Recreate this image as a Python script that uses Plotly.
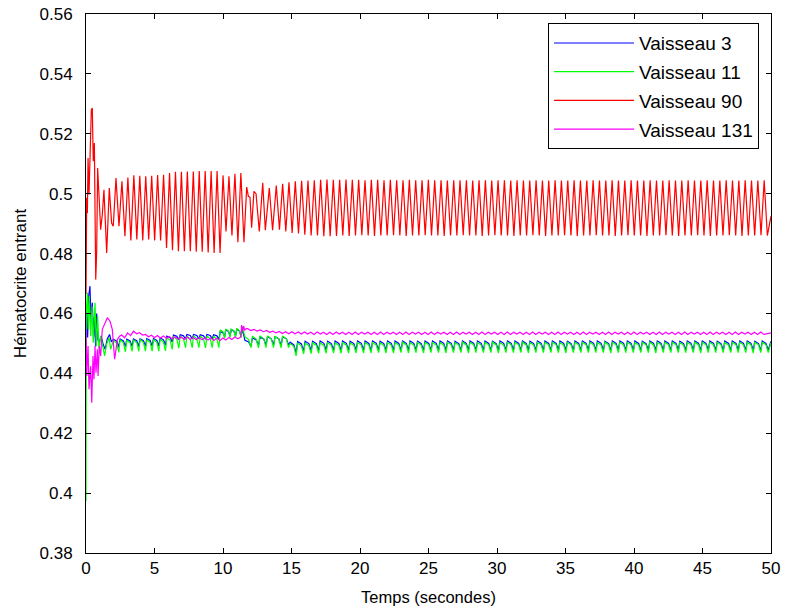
import plotly.graph_objects as go

# ---------------- Vaisseau 90 (rouge) ----------------
red_lead_t = [0.0, 0.05, 0.10, 0.15, 0.22, 0.34, 0.39, 0.46, 0.53, 0.61, 0.71,
              0.78, 0.85, 0.97, 1.07, 1.19, 1.31, 1.51, 1.70, 1.87, 1.99]
red_lead_v = [0.4665, 0.4986, 0.4935, 0.5119, 0.4997, 0.5241, 0.5280, 0.5286, 0.5108,
              0.5169, 0.4713, 0.4808, 0.5086, 0.4974, 0.4880, 0.4930, 0.5013, 0.4802,
              0.5019, 0.4902, 0.4891]
red_a_start, red_a_period = 2.19, 0.434
red_a_peaks = [0.5052, 0.5041, 0.5054, 0.5061, 0.5060, 0.5058, 0.5060, 0.5062, 0.5063,
               0.5069, 0.5073, 0.5073, 0.5074, 0.5074, 0.5076, 0.5076, 0.5076, 0.5076,
               0.5061, 0.5058, 0.5066, 0.5069]
red_a_troughs = [0.4891, 0.4858, 0.4844, 0.4847, 0.4844, 0.4847, 0.4844, 0.4844, 0.4819,
                 0.4811, 0.4808, 0.4808, 0.4808, 0.4806, 0.4806, 0.4804, 0.4802, 0.4802,
                 0.4874, 0.4860, 0.4838]
red_mid_t = [11.53, 11.73, 11.85, 11.97, 12.09, 12.26, 12.41, 12.65, 12.90, 13.09, 13.38, 13.62]
red_mid_v = [0.4838, 0.5022, 0.4991, 0.4988, 0.4886, 0.5008, 0.5000, 0.4874, 0.5036,
             0.4878, 0.5019, 0.4878]
red_e_start, red_e_period = 13.89, 0.4625
red_e_peaks = [0.5027, 0.5033, 0.5038, 0.5041, 0.5043, 0.5044, 0.5045, 0.5046, 0.5047, 0.5046,
               0.5046, 0.5047, 0.5046, 0.5046, 0.5045, 0.5046, 0.5046, 0.5045, 0.5046, 0.5045,
               0.5045, 0.5046, 0.5045, 0.5045, 0.5046, 0.5045, 0.5045, 0.5044, 0.5045, 0.5045,
               0.5045, 0.5044, 0.5045, 0.5045, 0.5044, 0.5045, 0.5045, 0.5044, 0.5045, 0.5044,
               0.5044, 0.5045, 0.5044, 0.5044, 0.5045, 0.5044, 0.5044, 0.5045, 0.5044, 0.5044,
               0.5045, 0.5044, 0.5044, 0.5045, 0.5044, 0.5044, 0.5045, 0.5044, 0.5044, 0.5045,
               0.5044, 0.5044, 0.5045, 0.5044, 0.5044, 0.5045, 0.5044, 0.5044, 0.5045, 0.5044,
               0.5044, 0.5045, 0.5044, 0.5044, 0.5045, 0.5044, 0.5044, 0.5045]
red_e_troughs = [0.4880, 0.4874, 0.4869, 0.4867, 0.4863, 0.4860, 0.4860, 0.4858, 0.4858, 0.4859,
                 0.4860, 0.4859, 0.4860, 0.4861, 0.4860, 0.4859, 0.4860, 0.4860, 0.4861, 0.4860,
                 0.4859, 0.4860, 0.4860, 0.4861, 0.4860, 0.4860, 0.4859, 0.4860, 0.4860, 0.4861,
                 0.4860, 0.4860, 0.4859, 0.4860, 0.4861, 0.4860, 0.4860, 0.4859, 0.4860, 0.4860,
                 0.4861, 0.4860, 0.4859, 0.4860, 0.4860, 0.4861, 0.4860, 0.4859, 0.4860, 0.4860,
                 0.4861, 0.4860, 0.4860, 0.4859, 0.4860, 0.4861, 0.4860, 0.4860, 0.4859, 0.4860,
                 0.4860, 0.4861, 0.4860, 0.4859, 0.4860, 0.4860, 0.4861, 0.4860, 0.4859, 0.4860,
                 0.4860, 0.4861, 0.4860, 0.4859, 0.4860, 0.4860, 0.4861, 0.4860]
red_end_t, red_end_v = [50.0], [0.4925]

# ---------------- Vaisseau 11 (vert) ----------------
green_lead_t = [0.0, 0.02, 0.10, 0.17, 0.24, 0.34, 0.44, 0.53, 0.66, 0.75, 0.85, 0.95,
                1.07, 1.19, 1.36, 1.50, 1.68, 1.80]
green_lead_v = [0.3974, 0.4602, 0.4669, 0.4547, 0.4658, 0.4524, 0.4624, 0.4502, 0.4636,
                0.4491, 0.4591, 0.4480, 0.4524, 0.4491, 0.4458, 0.4497, 0.4519, 0.4480]
green_b_tops = [0.4510, 0.4512, 0.4511, 0.4512, 0.4513, 0.4512, 0.4513, 0.4514, 0.4520,
                0.4523, 0.4524, 0.4524, 0.4525, 0.4524, 0.4525, 0.4524]
green_b_dips = [0.4470, 0.4472, 0.4473, 0.4473, 0.4474, 0.4474, 0.4474, 0.4475, 0.4480,
                0.4484, 0.4486, 0.4486, 0.4486, 0.4485, 0.4486, 0.4486]
green_c_tops = [0.4545, 0.4548, 0.4548, 0.4550]
green_c_dips = [0.4518, 0.4520, 0.4521, 0.4520]
green_kick_t, green_kick_v = [11.42], [0.4555]
green_d_tops = [0.4522, 0.4524, 0.4525, 0.4525, 0.4524, 0.4525]
green_d_dips = [0.4486, 0.4485, 0.4486, 0.4486, 0.4485, 0.4486]
green_e_tops = [0.4500, 0.4501, 0.4501, 0.4502, 0.4502, 0.4502, 0.4502, 0.4503, 0.4502, 0.4503,
                0.4503, 0.4503, 0.4502, 0.4503, 0.4503, 0.4504, 0.4503, 0.4503, 0.4504, 0.4503,
                0.4503, 0.4504, 0.4503, 0.4504, 0.4504, 0.4503, 0.4504, 0.4504, 0.4503, 0.4504,
                0.4504, 0.4504, 0.4503, 0.4504, 0.4504, 0.4504, 0.4503, 0.4504, 0.4504, 0.4504,
                0.4504, 0.4503, 0.4504, 0.4504, 0.4504, 0.4504, 0.4503, 0.4504, 0.4504, 0.4504,
                0.4504, 0.4504, 0.4503, 0.4504, 0.4504, 0.4504, 0.4504, 0.4504, 0.4503, 0.4504,
                0.4504, 0.4504, 0.4504, 0.4504]
green_e_dips = [0.4458, 0.4465, 0.4466, 0.4467, 0.4467, 0.4468, 0.4467, 0.4468, 0.4468, 0.4468,
                0.4468, 0.4469, 0.4468, 0.4468, 0.4469, 0.4468, 0.4469, 0.4468, 0.4469, 0.4469,
                0.4468, 0.4469, 0.4469, 0.4468, 0.4469, 0.4469, 0.4469, 0.4468, 0.4469, 0.4469,
                0.4469, 0.4468, 0.4469, 0.4469, 0.4469, 0.4469, 0.4468, 0.4469, 0.4469, 0.4469,
                0.4469, 0.4469, 0.4468, 0.4469, 0.4469, 0.4469, 0.4469, 0.4469, 0.4468, 0.4469,
                0.4469, 0.4469, 0.4469, 0.4469, 0.4468, 0.4469, 0.4469, 0.4469, 0.4469, 0.4469,
                0.4469, 0.4468, 0.4469, 0.4469]

# ---------------- Vaisseau 3 (bleu) ----------------
blue_lead_t = [0.0, 0.05, 0.12, 0.20, 0.29, 0.36, 0.46, 0.55, 0.62, 0.70, 0.78, 0.88,
               0.97, 1.10, 1.25, 1.40, 1.55, 1.72, 1.85]
blue_lead_v = [0.4520, 0.4600, 0.4520, 0.4660, 0.4691, 0.4580, 0.4636, 0.4520, 0.4590,
               0.4490, 0.4600, 0.4510, 0.4503, 0.4525, 0.4497, 0.4480, 0.4515, 0.4530, 0.4505]
blue_b_tops = [0.4514, 0.4515, 0.4514, 0.4515, 0.4515, 0.4516, 0.4516, 0.4518, 0.4524,
               0.4528, 0.4529, 0.4530, 0.4530, 0.4529, 0.4530, 0.4529]
blue_b_dips = [0.4488, 0.4489, 0.4490, 0.4490, 0.4491, 0.4491, 0.4492, 0.4494, 0.4505,
               0.4512, 0.4514, 0.4515, 0.4515, 0.4514, 0.4515, 0.4514]
blue_c_tops = [0.4540, 0.4545, 0.4546, 0.4547]
blue_c_dips = [0.4522, 0.4524, 0.4525, 0.4524]
blue_kick_t, blue_kick_v = [11.42], [0.4548]
blue_d_tops = [0.4510, 0.4518, 0.4521, 0.4522, 0.4522, 0.4522]
blue_d_dips = [0.4490, 0.4493, 0.4495, 0.4495, 0.4494, 0.4495]
blue_e_tops = [0.4504, 0.4506, 0.4507, 0.4507, 0.4508, 0.4507, 0.4508, 0.4508, 0.4507, 0.4508,
               0.4508, 0.4508, 0.4507, 0.4508, 0.4508, 0.4508, 0.4508, 0.4507, 0.4508, 0.4508,
               0.4508, 0.4508, 0.4507, 0.4508, 0.4508, 0.4508, 0.4508, 0.4507, 0.4508, 0.4508,
               0.4508, 0.4508, 0.4507, 0.4508, 0.4508, 0.4508, 0.4508, 0.4507, 0.4508, 0.4508,
               0.4508, 0.4508, 0.4507, 0.4508, 0.4508, 0.4508, 0.4508, 0.4507, 0.4508, 0.4508,
               0.4508, 0.4508, 0.4507, 0.4508, 0.4508, 0.4508, 0.4508, 0.4507, 0.4508, 0.4508,
               0.4508, 0.4508, 0.4507, 0.4508]
blue_e_dips = [0.4468, 0.4475, 0.4476, 0.4476, 0.4477, 0.4477, 0.4476, 0.4477, 0.4477, 0.4477,
               0.4476, 0.4477, 0.4477, 0.4477, 0.4476, 0.4477, 0.4477, 0.4477, 0.4476, 0.4477,
               0.4477, 0.4477, 0.4476, 0.4477, 0.4477, 0.4477, 0.4476, 0.4477, 0.4477, 0.4477,
               0.4476, 0.4477, 0.4477, 0.4477, 0.4476, 0.4477, 0.4477, 0.4477, 0.4476, 0.4477,
               0.4477, 0.4477, 0.4476, 0.4477, 0.4477, 0.4477, 0.4476, 0.4477, 0.4477, 0.4477,
               0.4476, 0.4477, 0.4477, 0.4477, 0.4476, 0.4477, 0.4477, 0.4477, 0.4476, 0.4477,
               0.4477, 0.4477, 0.4476, 0.4477]

# timing of the dip segments shared by vessels 3 and 11
dip_b_start, dip_b_period = 2.0, 0.4875
dip_c_start, dip_c_period = 9.8, 0.4
dip_d_start, dip_d_period = 11.6, 0.55
dip_e_start, dip_e_period = 14.9, 0.547
green_end_t, green_end_v = [50.0], [0.4503]
blue_end_t, blue_end_v = [50.0], [0.4507]

# ---------------- Vaisseau 131 (magenta) ----------------
mag_lead_t = [0.0, 0.05, 0.15, 0.22, 0.34, 0.42, 0.51, 0.58, 0.66, 0.73, 0.83, 0.88,
              0.97, 1.07, 1.19, 1.35, 1.56, 1.75, 1.92, 2.09, 2.19, 2.29, 2.45]
mag_lead_v = [0.4547, 0.4391, 0.4491, 0.4347, 0.4424, 0.4302, 0.4458, 0.4380, 0.4491,
              0.4402, 0.4480, 0.4391, 0.4491, 0.4458, 0.4547, 0.4565, 0.4586, 0.4574,
              0.4547, 0.4447, 0.4491, 0.4513, 0.4524]
mag_m1_start, mag_m1_period = 2.6, 0.435
mag_m1_hi = [0.4528, 0.4535, 0.4541, 0.4536, 0.4530, 0.4527, 0.4526, 0.4525, 0.4523, 0.4522,
             0.4521, 0.4521, 0.4520, 0.4520, 0.4519, 0.4518, 0.4518, 0.4518, 0.4520, 0.4521]
mag_m1_lo = [0.4519, 0.4526, 0.4532, 0.4528, 0.4522, 0.4519, 0.4518, 0.4517, 0.4515, 0.4514,
             0.4513, 0.4513, 0.4512, 0.4512, 0.4511, 0.4510, 0.4510, 0.4511, 0.4513, 0.4515]
mag_mid_t = [11.30, 11.36, 11.42, 11.50, 11.58, 11.70]
mag_mid_v = [0.4522, 0.4561, 0.4540, 0.4558, 0.4545, 0.4549]
mag_m2_start, mag_m2_period = 11.8, 0.46
mag_m2_hi = [0.4549, 0.4547, 0.4545, 0.4543, 0.4541]
mag_m2_lo = [0.4543, 0.4541, 0.4539, 0.4537, 0.4535]
mag_m3_start, mag_m3_period = 14.1, 0.4625
mag_m3_hi = [0.4540, 0.4539, 0.4539, 0.4538, 0.4538, 0.4537, 0.4538, 0.4537, 0.4537, 0.4538,
             0.4537, 0.4537, 0.4538, 0.4537, 0.4537, 0.4537, 0.4538, 0.4537, 0.4537, 0.4537,
             0.4538, 0.4537, 0.4537, 0.4537, 0.4538, 0.4537, 0.4537, 0.4537, 0.4538, 0.4537,
             0.4537, 0.4537, 0.4538, 0.4537, 0.4537, 0.4537, 0.4538, 0.4537, 0.4537, 0.4537,
             0.4538, 0.4537, 0.4537, 0.4537, 0.4538, 0.4537, 0.4537, 0.4537, 0.4538, 0.4537,
             0.4537, 0.4537, 0.4538, 0.4537, 0.4537, 0.4537, 0.4538, 0.4537, 0.4537, 0.4537,
             0.4538, 0.4537, 0.4537, 0.4537, 0.4538, 0.4537, 0.4537, 0.4537, 0.4538, 0.4537,
             0.4537, 0.4537, 0.4538, 0.4537, 0.4537, 0.4537, 0.4538]
mag_m3_lo = [0.4533, 0.4532, 0.4532, 0.4531, 0.4531, 0.4530, 0.4531, 0.4530, 0.4530, 0.4531,
             0.4530, 0.4530, 0.4530, 0.4531, 0.4530, 0.4530, 0.4530, 0.4531, 0.4530, 0.4530,
             0.4530, 0.4531, 0.4530, 0.4530, 0.4530, 0.4531, 0.4530, 0.4530, 0.4530, 0.4531,
             0.4530, 0.4530, 0.4530, 0.4531, 0.4530, 0.4530, 0.4530, 0.4531, 0.4530, 0.4530,
             0.4530, 0.4531, 0.4530, 0.4530, 0.4530, 0.4531, 0.4530, 0.4530, 0.4530, 0.4531,
             0.4530, 0.4530, 0.4530, 0.4531, 0.4530, 0.4530, 0.4530, 0.4531, 0.4530, 0.4530,
             0.4530, 0.4531, 0.4530, 0.4530, 0.4530, 0.4531, 0.4530, 0.4530, 0.4530, 0.4531,
             0.4530, 0.4530, 0.4530, 0.4531, 0.4530, 0.4530, 0.4530]
mag_end_t, mag_end_v = [50.0], [0.4535]

# ---------------- axes ----------------
x_ticks = [0, 5, 10, 15, 20, 25, 30, 35, 40, 45, 50]
y_ticks = [0.38, 0.40, 0.42, 0.44, 0.46, 0.48, 0.50, 0.52, 0.54, 0.56]
y_tick_text = ["0.38", "0.4", "0.42", "0.44", "0.46", "0.48", "0.5", "0.52", "0.54", "0.56"]


def zigzag(t0, period, highs, lows):
    """Alternating maxima / minima, one pair per cycle."""
    t, v = [], []
    for k, hi in enumerate(highs):
        t.append(t0 + k * period)
        v.append(hi)
        if k < len(lows):
            t.append(t0 + (k + 0.5) * period)
            v.append(lows[k])
    return t, v


def dip_train(t0, period, tops, dips):
    """Flat-topped cycles, each ending in a narrow downward dip."""
    t, v = [], []
    for k, (hi, lo) in enumerate(zip(tops, dips)):
        s = t0 + k * period
        t += [s, s + 0.5 * period, s + 0.8 * period]
        v += [hi, hi - 0.25 * (hi - lo), lo]
    return t, v


def join(*parts):
    t, v = [], []
    for pt, pv in parts:
        t += list(pt)
        v += list(pv)
    return t, v


red_t, red_v = join((red_lead_t, red_lead_v),
                    zigzag(red_a_start, red_a_period, red_a_peaks, red_a_troughs),
                    (red_mid_t, red_mid_v),
                    zigzag(red_e_start, red_e_period, red_e_peaks, red_e_troughs),
                    (red_end_t, red_end_v))

green_t, green_v = join((green_lead_t, green_lead_v),
                        dip_train(dip_b_start, dip_b_period, green_b_tops, green_b_dips),
                        dip_train(dip_c_start, dip_c_period, green_c_tops, green_c_dips),
                        (green_kick_t, green_kick_v),
                        dip_train(dip_d_start, dip_d_period, green_d_tops, green_d_dips),
                        dip_train(dip_e_start, dip_e_period, green_e_tops, green_e_dips),
                        (green_end_t, green_end_v))

blue_t, blue_v = join((blue_lead_t, blue_lead_v),
                      dip_train(dip_b_start, dip_b_period, blue_b_tops, blue_b_dips),
                      dip_train(dip_c_start, dip_c_period, blue_c_tops, blue_c_dips),
                      (blue_kick_t, blue_kick_v),
                      dip_train(dip_d_start, dip_d_period, blue_d_tops, blue_d_dips),
                      dip_train(dip_e_start, dip_e_period, blue_e_tops, blue_e_dips),
                      (blue_end_t, blue_end_v))

mag_t, mag_v = join((mag_lead_t, mag_lead_v),
                    zigzag(mag_m1_start, mag_m1_period, mag_m1_hi, mag_m1_lo),
                    (mag_mid_t, mag_mid_v),
                    zigzag(mag_m2_start, mag_m2_period, mag_m2_hi, mag_m2_lo),
                    zigzag(mag_m3_start, mag_m3_period, mag_m3_hi, mag_m3_lo),
                    (mag_end_t, mag_end_v))

series = [
    ("Vaisseau 3", blue_t, blue_v, "rgb(0,0,255)"),
    ("Vaisseau 11", green_t, green_v, "rgb(0,255,0)"),
    ("Vaisseau 90", red_t, red_v, "rgb(255,0,0)"),
    ("Vaisseau 131", mag_t, mag_v, "rgb(255,0,255)"),
]

fig = go.Figure()
for name, t, v, color in series:
    fig.add_trace(go.Scatter(x=t, y=v, mode="lines", name=name, legendgroup=name,
                             line=dict(color=color, width=1.2)))

font_main = "Liberation Sans, Arial, Helvetica, sans-serif"

fig.update_layout(
    width=786, height=611,
    margin=dict(l=86, r=15, t=14, b=58, autoexpand=False),
    paper_bgcolor="white", plot_bgcolor="white",
    font=dict(family=font_main, size=17, color="black"),
    legend=dict(x=0.6745, y=0.983, xanchor="left", yanchor="top",
                bordercolor="black", borderwidth=1, bgcolor="white",
                font=dict(family=font_main, size=19, color="black"),
                itemwidth=80, tracegroupgap=1, traceorder="grouped"),
    xaxis=dict(range=[0, 50], tickvals=x_ticks, ticks="inside", ticklen=5,
               tickcolor="black", showline=True, linecolor="black", linewidth=1,
               mirror="ticks", showgrid=False, zeroline=False, automargin=False,
               tickfont=dict(size=17),
               title=dict(text="Temps (secondes)", standoff=14,
                          font=dict(size=16.5))),
    yaxis=dict(range=[0.38, 0.56], tickvals=y_ticks, ticktext=y_tick_text,
               ticks="inside", ticklen=5, tickcolor="black", showline=True,
               linecolor="black", linewidth=1, mirror="ticks", showgrid=False,
               zeroline=False, automargin=False, tickfont=dict(size=17),
               ticklabelstandoff=9,
               title=dict(text="Hématocrite entrant", standoff=8, font=dict(size=17))),
)

fig.write_html("out.html")
